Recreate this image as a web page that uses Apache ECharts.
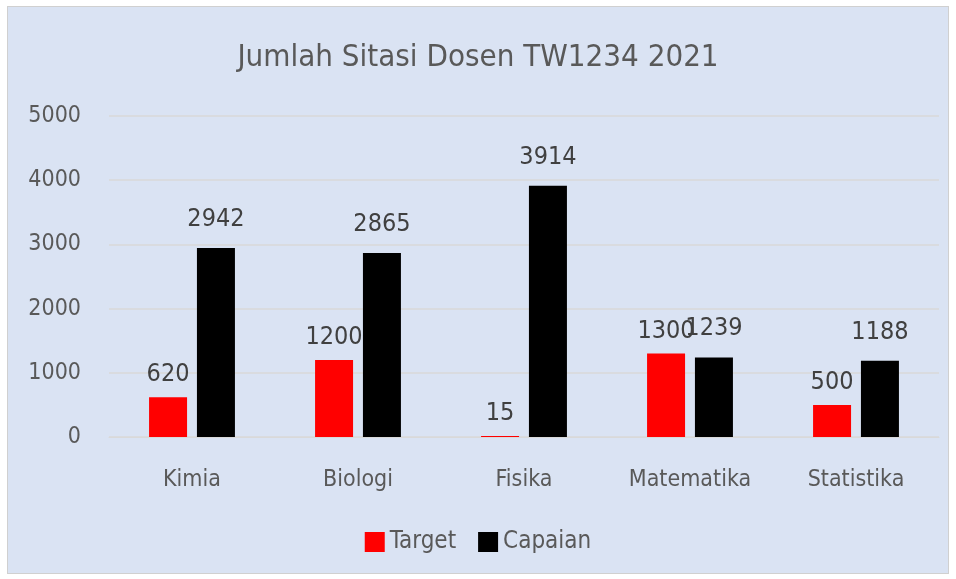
<!DOCTYPE html>
<html>
<head>
    <meta charset="UTF-8">
    <title>Jumlah Sitasi Dosen TW1234 2021</title>
    <script src="https://cdn.jsdelivr.net/npm/echarts@6/dist/echarts.min.js"></script>
    <style>
        html, body { margin: 0; padding: 0; background: #ffffff; }
        #wrap { position: absolute; left: 7px; top: 6px; width: 940px; height: 566px; border: 1px solid #d0d0d0; background: #dae3f3; }
        #chart { width: 940px; height: 566px; }
    </style>
</head>
<body>
<div id="wrap"><div id="chart"></div></div>
<script type="text/javascript">
    // data
    var categories = ['Kimia', 'Biologi', 'Fisika', 'Matematika', 'Statistika'];
    var target = [620, 1200, 15, 1300, 500];
    var capaian = [2942, 2865, 3914, 1239, 1188];
    var seriesNames = ['Target', 'Capaian'];

    var font = '"Liberation Sans Narrow", "DejaVu Sans Condensed", sans-serif';
    var chart = echarts.init(document.getElementById('chart'));

    var option = {
        backgroundColor: '#dae3f3',
        textStyle: { fontFamily: font },
        title: {
            text: 'Jumlah Sitasi Dosen TW1234 2021',
            left: 'center',
            top: 30,
            textStyle: { color: '#595959', fontSize: 31, fontWeight: 'normal', fontFamily: font }
        },
        legend: {
            data: seriesNames,
            bottom: 14,
            itemWidth: 20,
            itemHeight: 20,
            itemGap: 22,
            icon: 'rect',
            textStyle: { color: '#595959', fontSize: 24, fontFamily: font }
        },
        grid: { left: 101, right: 9, top: 109, bottom: 136 },
        xAxis: {
            type: 'category',
            data: categories,
            axisLine: { show: true, lineStyle: { color: '#d9d9d9', width: 1 } },
            axisTick: { show: false },
            axisLabel: { color: '#595959', fontSize: 23, margin: 32, fontFamily: font }
        },
        yAxis: {
            type: 'value',
            min: 0,
            max: 5000,
            interval: 1000,
            axisLine: { show: false },
            axisTick: { show: false },
            splitLine: { lineStyle: { color: '#d9d9d9', width: 1.5 } },
            axisLabel: { color: '#595959', fontSize: 23, margin: 28, fontFamily: font, formatter: function (v) { return String(v); } }
        },
        series: [
            {
                name: seriesNames[0],
                type: 'bar',
                data: target,
                barWidth: 38,
                barGap: '26%',
                itemStyle: { color: '#ff0000' },
                label: { show: true, position: 'top', distance: 10, color: '#404040', fontSize: 25, fontFamily: font }
            },
            {
                name: seriesNames[1],
                type: 'bar',
                data: capaian,
                barWidth: 38,
                itemStyle: { color: '#000000' },
                label: { show: true, position: 'top', distance: 16, color: '#404040', fontSize: 25, fontFamily: font }
            }
        ]
    };
    chart.setOption(option);
</script>
</body>
</html>
